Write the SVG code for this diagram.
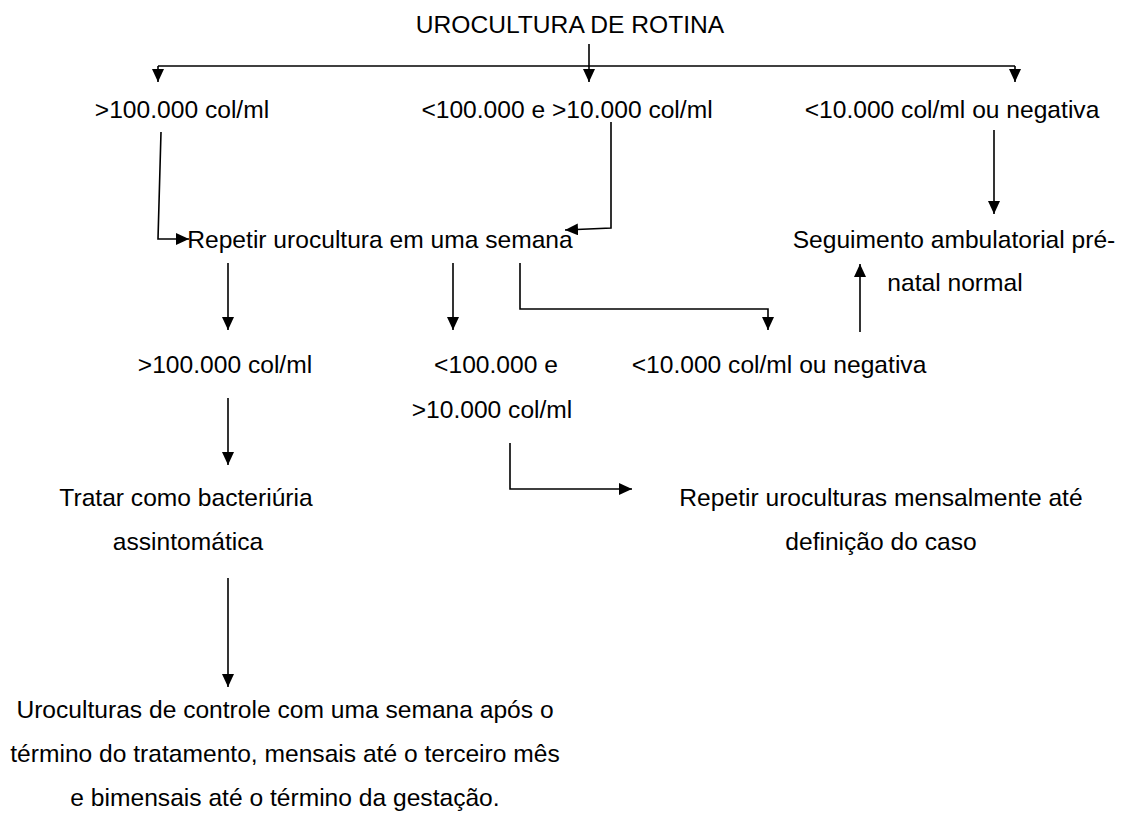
<svg xmlns="http://www.w3.org/2000/svg" width="1122" height="814" viewBox="0 0 1122 814">
<defs>
<marker id="ah" markerUnits="userSpaceOnUse" markerWidth="14" markerHeight="12" refX="13" refY="6" orient="auto">
<path d="M0,0 L13,6 L0,12 z" fill="#000"/>
</marker>
<style>
.t{font-family:"Liberation Sans",Arial,sans-serif;font-size:24.6px;fill:#000;text-anchor:middle}
.c{fill:none;stroke:#000;stroke-width:1.6}
.a{fill:none;stroke:#000;stroke-width:1.6;marker-end:url(#ah)}
</style>
</defs>
<rect width="1122" height="814" fill="#fff"/>
<g id="connectors">
<path class="a" d="M589,44 V82"/>
<path class="c" d="M158,66 H1015"/>
<path class="a" d="M158,66 V82"/>
<path class="a" d="M1015,66 V82"/>
<path class="a" d="M161,132 L158,239 H189"/>
<path class="a" d="M611,122 V228 L565,230"/>
<path class="a" d="M994,130 V214"/>
<path class="a" d="M228,263 V330"/>
<path class="a" d="M453,263 V330"/>
<path class="a" d="M520,263 V309 H768 V330"/>
<path class="a" d="M860,332 V264"/>
<path class="a" d="M228,398 V465"/>
<path class="a" d="M510,443 V489 H632"/>
<path class="a" d="M228,578 V687"/>
</g>
<g id="n-title"><text class="t" x="570" y="33">UROCULTURA DE ROTINA</text></g>
<g id="n-a1"><text class="t" x="182" y="118">&gt;100.000 col/ml</text></g>
<g id="n-a2"><text class="t" x="567" y="118">&lt;100.000 e &gt;10.000 col/ml</text></g>
<g id="n-a3"><text class="t" x="952" y="118">&lt;10.000 col/ml ou negativa</text></g>
<g id="n-repetir"><text class="t" x="380" y="248">Repetir urocultura em uma semana</text></g>
<g id="n-seguimento"><text class="t" x="954" y="248">Seguimento ambulatorial pré-</text><text class="t" x="955" y="291">natal normal</text></g>
<g id="n-b1"><text class="t" x="225" y="373">&gt;100.000 col/ml</text></g>
<g id="n-b2"><text class="t" x="496" y="373">&lt;100.000 e</text><text class="t" x="492" y="418">&gt;10.000 col/ml</text></g>
<g id="n-b3"><text class="t" x="779" y="373">&lt;10.000 col/ml ou negativa</text></g>
<g id="n-tratar"><text class="t" x="186" y="506">Tratar como bacteriúria</text><text class="t" x="188" y="550">assintomática</text></g>
<g id="n-mensal"><text class="t" x="881" y="506">Repetir uroculturas mensalmente até</text><text class="t" x="881" y="550">definição do caso</text></g>
<g id="n-controle"><text class="t" x="285" y="718">Uroculturas de controle com uma semana após o</text><text class="t" x="285" y="762">término do tratamento, mensais até o terceiro mês</text><text class="t" x="285" y="806">e bimensais até o término da gestação.</text></g>
</svg>
